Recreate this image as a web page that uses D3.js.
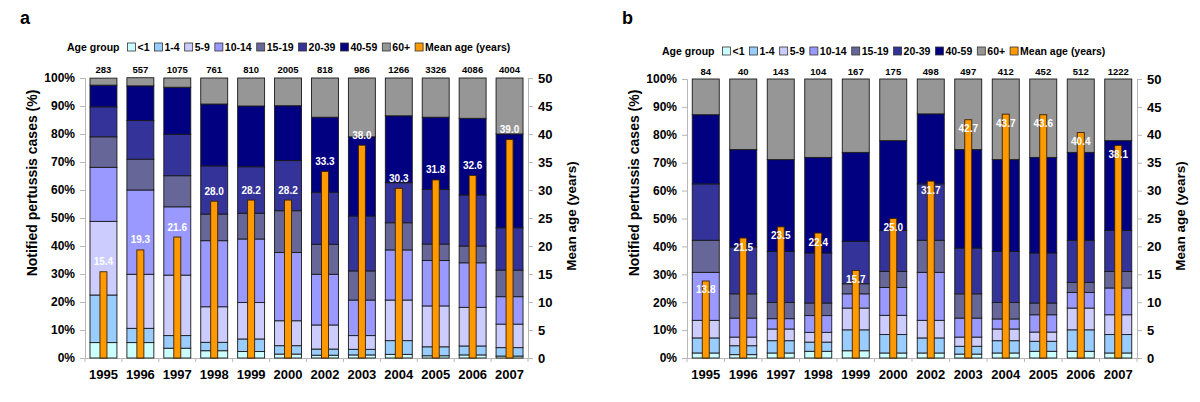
<!DOCTYPE html>
<html><head><meta charset="utf-8">
<script src="https://cdn.jsdelivr.net/npm/d3@7"></script>
<style>
html,body{margin:0;padding:0;background:#fff;}
svg text{font-family:Arial,"Liberation Sans",sans-serif;font-weight:bold;}
</style></head>
<body>
<svg id="chart" width="1200" height="402"></svg>
<script>
// ---- data ----
const years = ["1995","1996","1997","1998","1999","2000","2002","2003","2004","2005","2006","2007"];
const ageGroups = ["<1","1-4","5-9","10-14","15-19","20-39","40-59","60+"];
const ageColors = ["#ccffff","#99ccff","#ccccff","#9999ff","#666699","#333399","#000080","#969696"];
const meanColor = "#ff9900";
const pctTicks = [0,10,20,30,40,50,60,70,80,90,100];
const ageTicks = [0,5,10,15,20,25,30,35,40,45,50];

// panel a (%)
const aLt1   = [5.5, 5.5, 3.5, 2.6, 2.3, 1.4, 1.0, 1.1, 1.3, 0.8, 1.1, 0.7];
const a1to4  = [17.0, 5.1, 4.5, 3.0, 4.5, 3.0, 2.2, 2.0, 4.9, 3.2, 3.2, 3.0];
const a5to9  = [26.3, 19.3, 21.6, 12.7, 13.0, 8.9, 8.6, 4.9, 14.5, 14.6, 13.8, 8.4];
const a10to14= [19.3, 30.1, 24.4, 23.6, 22.7, 24.4, 18.1, 12.7, 17.9, 16.2, 15.9, 9.8];
const a15to19= [10.9, 11.0, 11.1, 9.5, 9.2, 14.9, 10.7, 10.4, 9.7, 5.9, 6.0, 9.5];
const a20to39= [10.7, 13.8, 14.8, 17.2, 16.6, 17.9, 18.6, 19.6, 14.3, 19.5, 18.2, 15.1];
const a40to59= [7.75, 12.4, 16.8, 22.1, 21.7, 19.6, 26.8, 28.3, 23.9, 25.8, 27.4, 33.5];
const a60plus= [2.5, 2.9, 3.3, 9.3, 10.0, 9.9, 14.0, 21.0, 13.5, 14.0, 14.4, 20.0];
const aMean  = [15.4, 19.3, 21.6, 28.0, 28.2, 28.2, 33.3, 38.0, 30.3, 31.8, 32.6, 39.0];
const aCount = [283, 557, 1075, 761, 810, 2005, 818, 986, 1266, 3326, 4086, 4004];

// panel b (%)
const bLt1   = [1.8, 1.2, 1.8, 2.4, 2.6, 1.8, 1.8, 1.4, 1.8, 2.4, 2.4, 1.8];
const b1to4  = [5.4, 3.2, 4.4, 3.3, 7.5, 6.6, 5.4, 2.8, 4.4, 3.6, 7.7, 6.6];
const b5to9  = [6.3, 3.1, 4.2, 3.5, 7.8, 6.9, 6.3, 3.3, 4.2, 3.3, 7.8, 7.1];
const b10to14= [17.2, 6.8, 3.7, 6.0, 5.1, 10.0, 17.2, 6.8, 3.6, 6.2, 5.6, 9.6];
const b15to19= [11.5, 8.7, 5.8, 4.5, 3.6, 5.7, 11.5, 8.7, 5.9, 4.2, 3.6, 5.9];
const b20to39= [20.2, 16.8, 18.3, 17.9, 15.2, 14.7, 20.2, 16.4, 18.3, 17.9, 15.1, 14.7];
const b40to59= [24.8, 34.9, 32.9, 34.3, 31.9, 32.2, 25.1, 35.3, 32.9, 34.3, 31.5, 32.2];
const b60plus= [12.8, 25.3, 28.9, 28.1, 26.3, 22.1, 12.5, 25.3, 28.9, 28.1, 26.3, 22.1];
const bMean  = [13.8, 21.5, 23.5, 22.4, 15.7, 25.0, 31.7, 42.7, 43.7, 43.6, 40.4, 38.1];
const bCount = [84, 40, 143, 104, 167, 175, 498, 497, 412, 452, 512, 1222];

// ---- drawing ----
const svg = d3.select("#chart");

function buildRows(groups, means, counts){
  return years.map((y,i)=>{
    const r = {year:y, mean:means[i], count:counts[i]};
    ageGroups.forEach((g,k)=>{ r[g] = groups[k][i]; });
    return r;
  });
}

function drawPanel(cfg){
  const g = svg.append("g");
  const rows = buildRows(cfg.groups, cfg.means, cfg.counts);
  const x = d3.scaleBand().domain(years).range([cfg.x0, cfg.x1])
      .paddingInner(cfg.pad).paddingOuter(cfg.pad/2);
  const y = d3.scaleLinear().domain([0,100]).range([cfg.yBottom, cfg.yTop]);
  const y2 = d3.scaleLinear().domain([0,50]).range([cfg.yBottom, cfg.yTop]);
  const color = d3.scaleOrdinal().domain(ageGroups).range(ageColors);

  // panel letter
  g.append("text").attr("x", cfg.letterX).attr("y", 24).attr("font-size", 18).attr("fill","#000").text(cfg.letter);

  // axes
  const axL = g.append("g").attr("transform", `translate(${cfg.x0},0)`)
    .call(d3.axisLeft(y).tickValues(pctTicks).tickFormat(d=>d+"%").tickSize(5).tickPadding(5));
  const axR = g.append("g").attr("transform", `translate(${cfg.x1},0)`)
    .call(d3.axisRight(y2).tickValues(ageTicks).tickSize(5).tickPadding(5));
  const axB = g.append("g").attr("transform", `translate(0,${cfg.yBottom})`)
    .call(d3.axisBottom(x).tickSize(0).tickPadding(12));
  [axL, axR, axB].forEach(a=>{
    a.select(".domain").attr("stroke","#b8b8b8");
    a.selectAll(".tick line").attr("stroke","#b8b8b8");
    a.selectAll("text").attr("fill","#000");
  });
  axL.selectAll("text").attr("font-size", 12);
  axR.selectAll("text").attr("font-size", 13);
  axB.selectAll("text").attr("font-size", 13);
  // category separator ticks on bottom axis
  const step = x.step();
  g.append("g").selectAll("line").data(d3.range(years.length+1)).join("line")
    .attr("x1", i=>cfg.x0 + i*step).attr("x2", i=>cfg.x0 + i*step)
    .attr("y1", cfg.yBottom).attr("y2", cfg.yBottom+4).attr("stroke","#b8b8b8");

  // stacked bars
  const series = d3.stack().keys(ageGroups)(rows);
  g.append("g").selectAll("g").data(series).join("g")
    .attr("fill", d=>color(d.key))
    .selectAll("rect").data(d=>d).join("rect")
      .attr("x", d=>x(d.data.year)).attr("width", x.bandwidth())
      .attr("y", d=>y(d[1])).attr("height", d=>y(d[0])-y(d[1]))
      .attr("stroke","#1a1a1a").attr("stroke-width",0.9);

  // mean age bars
  const mw = cfg.meanW;
  g.append("g").selectAll("rect").data(rows).join("rect")
    .attr("x", d=>x(d.year)+x.bandwidth()/2-mw/2).attr("width", mw)
    .attr("y", d=>y2(d.mean)).attr("height", d=>y2(0)-y2(d.mean))
    .attr("fill", meanColor).attr("stroke","#3a2000").attr("stroke-width",0.9);

  // mean labels
  g.append("g").selectAll("text").data(rows).join("text")
    .attr("x", d=>x(d.year)+x.bandwidth()/2)
    .attr("y", d=>y2(d.mean)+cfg.labelOffset)
    .attr("text-anchor","middle").attr("dominant-baseline","central")
    .attr("font-size",10).attr("fill","#fff")
    .text(d=>d3.format(".1f")(d.mean));

  // counts
  g.append("g").selectAll("text").data(rows).join("text")
    .attr("x", d=>x(d.year)+x.bandwidth()/2).attr("y", cfg.countY)
    .attr("text-anchor","middle").attr("font-size",9.5).attr("fill","#000")
    .text(d=>d.count);

  // axis titles
  g.append("text").attr("transform", `translate(${cfg.x0-53},${183}) rotate(-90)`)
    .attr("text-anchor","middle").attr("dominant-baseline","central")
    .attr("font-size",14).attr("fill","#000").text("Notified pertussis cases  (%)");
  g.append("text").attr("transform", `translate(${cfg.x1+43},${216}) rotate(-90)`)
    .attr("text-anchor","middle").attr("dominant-baseline","central")
    .attr("font-size",13.5).attr("fill","#000").text("Mean age (years)");

  // legend
  const lg = g.append("g").attr("transform", `translate(${cfg.legX},${cfg.legY})`);
  const t0 = lg.append("text").attr("x",0).attr("y",0).attr("dominant-baseline","central")
    .attr("font-size",10.5).attr("fill","#000").text("Age group");
  let cx = t0.node().getComputedTextLength() + 8;
  const items = ageGroups.map((k,i)=>({label:k, fill:ageColors[i]}))
    .concat([{label:"Mean age (years)", fill:meanColor}]);
  items.forEach(it=>{
    lg.append("rect").attr("x",cx).attr("y",-4).attr("width",8).attr("height",8)
      .attr("fill",it.fill).attr("stroke","#333").attr("stroke-width",0.8);
    const t = lg.append("text").attr("x",cx+10).attr("y",0).attr("dominant-baseline","central")
      .attr("font-size",10.5).attr("fill","#000").text(it.label);
    cx += 10 + t.node().getComputedTextLength() + 5;
  });
}

drawPanel({letter:"a", letterX:20, x0:85, x1:528, yTop:78, yBottom:358, pad:0.27,
  groups:[aLt1,a1to4,a5to9,a10to14,a15to19,a20to39,a40to59,a60plus], means:aMean, counts:aCount,
  meanW:7, labelOffset:-10, countY:73, legX:67, legY:47});
drawPanel({letter:"b", letterX:622, x0:687, x1:1137, yTop:79, yBottom:358, pad:0.28,
  groups:[bLt1,b1to4,b5to9,b10to14,b15to19,b20to39,b40to59,b60plus], means:bMean, counts:bCount,
  meanW:7, labelOffset:9, countY:75, legX:662, legY:51});
</script>
</body></html>
